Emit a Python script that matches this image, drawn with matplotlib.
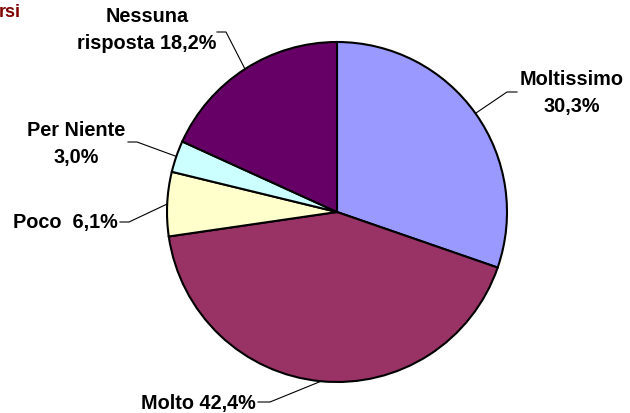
import matplotlib.pyplot as plt
import numpy as np

plt.rcParams["font.family"] = ["Liberation Sans", "DejaVu Sans"]

LABELS = ["Moltissimo", "Molto", "Poco", "Per Niente", "Nessuna\nrisposta"]
SHARES = [30.3, 42.4, 6.1, 3.0, 18.2]
COLORS = ["#9999FF", "#993366", "#FFFFCC", "#CCFFFF", "#660066"]
TEXTS = ["Moltissimo\n30,3%", "Molto 42,4%", "Poco  6,1%", "Per Niente\n3,0%",
         "Nessuna\nrisposta 18,2%"]

W, H = 630, 414
CX, CY, R = 337, 213, 170  # pixel coords, y from top

# label layout: (elbow x, elbow y, end x, text x, text y, ha)
LAYOUT = [
    (507, 93, 517, 572, 93, "center"),
    (270, 403, 258, 256, 404, "right"),
    (129, 223, 120, 118, 223, "right"),
    (137, 143, 128, 76, 144, "center"),
    (226, 33, 217, 147, 30, "center"),
]


def main():
    fig = plt.figure(figsize=(W / 100, H / 100), dpi=100)
    ax = fig.add_axes([0, 0, 1, 1])

    ax.pie(SHARES, colors=COLORS, startangle=90, counterclock=False,
           center=(CX, H - CY), radius=R,
           wedgeprops=dict(edgecolor="black", linewidth=1.5))
    ax.set_xlim(0, W)
    ax.set_ylim(0, H)
    ax.set_aspect("equal")
    ax.axis("off")

    cum = np.cumsum([0] + SHARES[:-1])
    for share, c0, txt, (ex, ey, tx, lx, ly, ha) in zip(SHARES, cum, TEXTS, LAYOUT):
        ang = np.deg2rad(90 - (c0 + share / 2) / 100 * 360)
        px = CX + R * np.cos(ang)
        py = (H - CY) + R * np.sin(ang)
        ax.plot([px, ex, tx], [py, H - ey, H - ey], color="black", lw=0.8)
        ax.text(lx, H - ly, txt, ha=ha, va="center", multialignment="center",
                fontsize=14.3, fontweight="bold", linespacing=1.55)

    ax.text(-1, H - 12, "rsi", ha="left", va="center", fontsize=13,
            fontweight="bold", color="#800000")

    fig.savefig("out.png", dpi=100)


if __name__ == "__main__":
    main()
